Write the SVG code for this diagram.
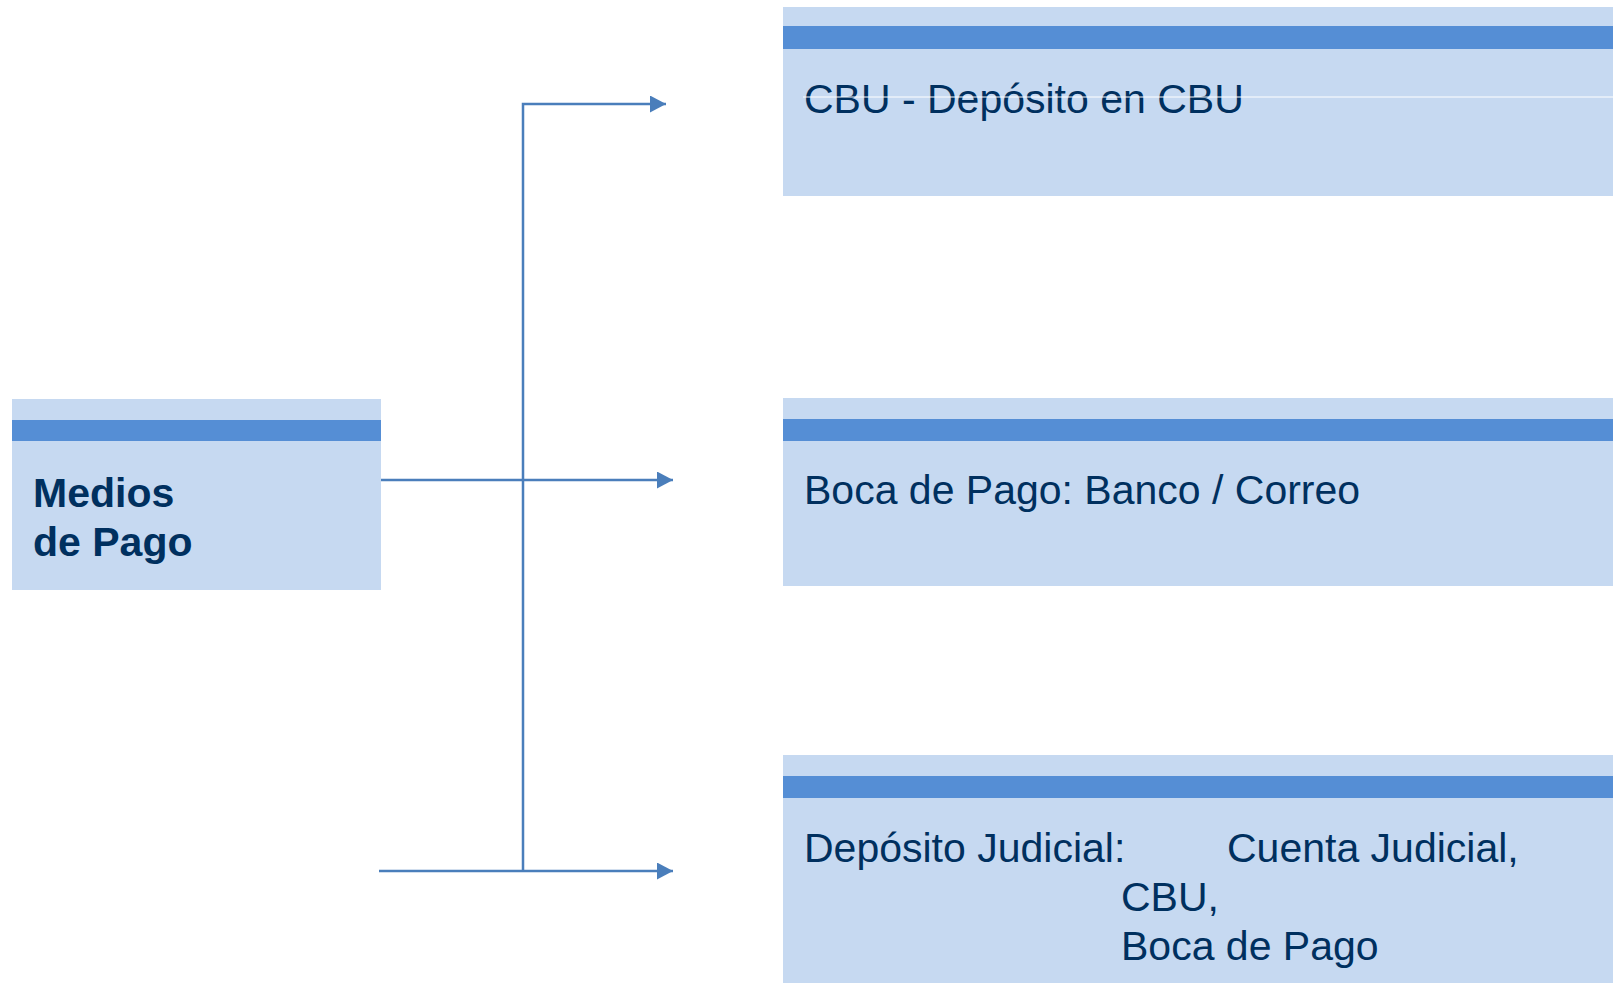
<svg xmlns="http://www.w3.org/2000/svg" width="1613" height="983" viewBox="0 0 1613 983">
<style>
.box{fill:#C6D9F1}
.band{fill:#558ED5}
.t{font-family:"Liberation Sans",Arial,sans-serif;font-size:41px;fill:#00305F}
.tb{font-family:"Liberation Sans",Arial,sans-serif;font-size:41px;font-weight:bold;fill:#00305F}
.c{fill:none;stroke:#4A7EBB;stroke-width:2.5}
</style>
<defs>
<marker id="ah" markerWidth="16" markerHeight="17" refX="16" refY="8.5" orient="auto" markerUnits="userSpaceOnUse">
<path d="M0,0 L16,8.5 L0,17 Z" fill="#4A7EBB"/>
</marker>
</defs>
<rect width="1613" height="983" fill="#FFFFFF"/>
<g id="node-medios">
<rect class="box" x="12" y="399" width="369" height="191"/>
<rect class="band" x="12" y="420" width="369" height="21"/>
<text class="tb" x="33" y="507">Medios</text>
<text class="tb" x="33" y="556">de Pago</text>
</g>
<g id="node-cbu">
<rect class="box" x="783" y="7" width="830" height="189"/>
<rect class="band" x="783" y="26" width="830" height="23"/>
<text class="t" x="804" y="113">CBU - Depósito en CBU</text>
<line x1="803" y1="97" x2="1613" y2="97" stroke="#FFFFFF" stroke-width="1"/>
</g>
<g id="node-boca">
<rect class="box" x="783" y="398" width="830" height="188"/>
<rect class="band" x="783" y="419" width="830" height="22"/>
<text class="t" x="804" y="504">Boca de Pago: Banco / Correo</text>
</g>
<g id="node-judicial">
<rect class="box" x="783" y="755" width="830" height="228"/>
<rect class="band" x="783" y="776" width="830" height="22"/>
<text class="t" x="804" y="862">Depósito Judicial:</text>
<text class="t" x="1227" y="862">Cuenta Judicial,</text>
<text class="t" x="1121" y="911">CBU,</text>
<text class="t" x="1121" y="960">Boca de Pago</text>
</g>
<g id="connectors">
<polyline class="c" points="523,871 523,104 666,104" marker-end="url(#ah)"/>
<line class="c" x1="381" y1="480" x2="673" y2="480" marker-end="url(#ah)"/>
<line class="c" x1="379" y1="871" x2="673" y2="871" marker-end="url(#ah)"/>
</g>
</svg>
